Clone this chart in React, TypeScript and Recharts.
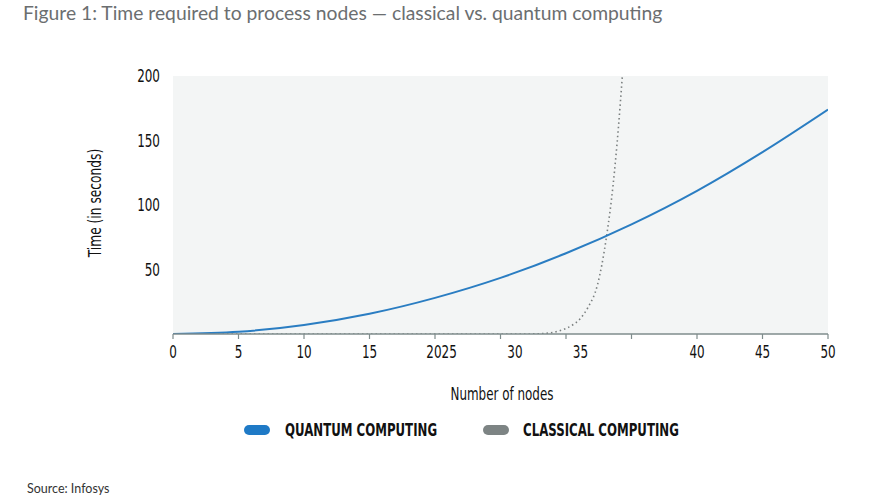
import React from "react";
import { LineChart, Line, XAxis, YAxis, CartesianGrid } from "recharts";

const quantumNodes = [0, 5, 10, 15, 20, 25, 30, 35, 40, 45, 50];
const quantumTime = [0, 1.7, 7, 15.7, 28, 43.5, 62.6, 85, 111, 141, 174];

const classicalNodes = [0, 10, 20, 27, 28.4, 29.5, 30.5, 31.1, 31.7, 32.4, 33.1, 33.6, 34.0, 34.3];
const classicalTime = [0, 0, 0, 0, 0.5, 2.5, 7, 12, 21, 38, 76, 116, 160, 200];

const tickMarkValues = [0, 5, 10, 15, 20, 25, 30, 35, 40, 45, 50];
const tickLabelValues = [0, 5, 10, 15, 20.5, 26.1, 31.1, 40, 45, 50];
const tickLabels = ["0", "5", "10", "15", "2025", "30", "35", "40", "45", "50"];
const yTicks = [50, 100, 150, 200];

const quantumData = quantumNodes.map((n, i) => ({ n, t: quantumTime[i] }));
const classicalData = classicalNodes.map((n, i) => ({ n, t: classicalTime[i] }));
const allTicks = Array.from(new Set([...tickMarkValues, ...tickLabelValues])).sort((a, b) => a - b);

const FONT = "'Liberation Sans Narrow', 'DejaVu Sans Condensed', 'Liberation Sans', sans-serif";
const BLUE = "#2a7dc2";
const GREY = "#7a7f7f";
const AXIS = "#7f8c8c";
const SX = 0.74;

const TICK_SIZE = 5;
const TICK_MARGIN = 6;

const XTick = (props: any) => {
  const { x, y, payload } = props;
  const v = payload.value;
  const isMark = tickMarkValues.includes(v);
  const li = tickLabelValues.indexOf(v);
  return (
    <g>
      {isMark && (
        <line x1={x} x2={x} y1={y - TICK_SIZE - TICK_MARGIN} y2={y - TICK_MARGIN} stroke={AXIS} strokeWidth={1.2} />
      )}
      {li >= 0 && (
        <g transform={`translate(${x},${y}) scale(${SX},1)`}>
          <text x={0} y={0} dy="0.71em" textAnchor="middle" fontFamily={FONT} fontSize={18} fill="#111">
            {tickLabels[li]}
          </text>
        </g>
      )}
    </g>
  );
};

const YTick = (props: any) => {
  const { x, y, payload } = props;
  return (
    <g transform={`translate(${x},${y}) scale(${SX},1)`}>
      <text x={0} y={0} dy="0.355em" textAnchor="end" fontFamily={FONT} fontSize={18} fill="#111">
        {payload.value}
      </text>
    </g>
  );
};

const condensed = (sx: number): React.CSSProperties => ({
  fontFamily: FONT,
  color: "#111",
  whiteSpace: "nowrap",
  position: "absolute",
});

export default function App() {
  return (
    <div style={{ position: "absolute", left: 0, top: 0, width: 870, height: 502, background: "#fff" }}>
      <div
        style={{
          position: "absolute",
          left: 23,
          top: 1,
          fontFamily: "Lato, 'Liberation Sans', sans-serif",
          fontSize: 19.3,
          color: "#6b6e70",
          whiteSpace: "nowrap",
        }}
      >
        Figure 1: Time required to process nodes — classical vs. quantum computing
      </div>
      <LineChart
        width={870}
        height={502}
        margin={{ top: 76, right: 42, left: 0, bottom: 138 }}
        style={{ position: "absolute", left: 0, top: 0 }}
      >
        <CartesianGrid fill="#f3f5f5" stroke="none" horizontal={false} vertical={false} />
        <XAxis
          type="number"
          dataKey="n"
          domain={[0, 50]}
          ticks={allTicks}
          interval={0}
          height={30}
          allowDataOverflow
          tickLine={false}
          tickSize={TICK_SIZE}
          tickMargin={TICK_MARGIN}
          axisLine={{ stroke: AXIS, strokeWidth: 1.5 }}
          tick={<XTick />}
        />
        <YAxis
          type="number"
          domain={[0, 200]}
          ticks={yTicks}
          interval={0}
          width={173}
          allowDataOverflow
          axisLine={false}
          tickLine={false}
          tickSize={0}
          tickMargin={13}
          tick={<YTick />}
        />
        <Line
          data={classicalData}
          dataKey="t"
          type="monotone"
          stroke={GREY}
          strokeWidth={1.6}
          strokeDasharray="1.5 3"
          dot={false}
          isAnimationActive={false}
        />
        <Line
          data={quantumData}
          dataKey="t"
          type="monotone"
          stroke={BLUE}
          strokeWidth={2}
          dot={false}
          isAnimationActive={false}
        />
      </LineChart>
      <div
        style={{
          ...condensed(1),
          left: 95,
          top: 203,
          fontSize: 17,
          transform: "translate(-50%, -50%) rotate(-90deg) scaleX(0.8)",
        }}
      >
        Time (in seconds)
      </div>
      <div
        style={{
          ...condensed(1),
          left: 502,
          top: 394,
          fontSize: 17,
          transform: "translate(-50%, -50%) scaleX(0.78)",
        }}
      >
        Number of nodes
      </div>
      <div style={{ position: "absolute", left: 244, top: 425, width: 26, height: 10, borderRadius: 5, background: "#1f7ac6" }} />
      <div
        style={{
          ...condensed(1),
          left: 285,
          top: 430,
          fontWeight: 700,
          fontSize: 17,
          transformOrigin: "0 50%",
          transform: "translateY(-50%) scaleX(0.77)",
        }}
      >
        QUANTUM COMPUTING
      </div>
      <div style={{ position: "absolute", left: 483, top: 425, width: 26, height: 10, borderRadius: 5, background: "#7d8484" }} />
      <div
        style={{
          ...condensed(1),
          left: 523,
          top: 430,
          fontWeight: 700,
          fontSize: 17,
          transformOrigin: "0 50%",
          transform: "translateY(-50%) scaleX(0.77)",
        }}
      >
        CLASSICAL COMPUTING
      </div>
      <div
        style={{
          position: "absolute",
          left: 27,
          top: 481,
          fontFamily: "Lato, 'Liberation Sans', sans-serif",
          fontSize: 12.5,
          color: "#333",
          whiteSpace: "nowrap",
        }}
      >
        Source: Infosys
      </div>
    </div>
  );
}
